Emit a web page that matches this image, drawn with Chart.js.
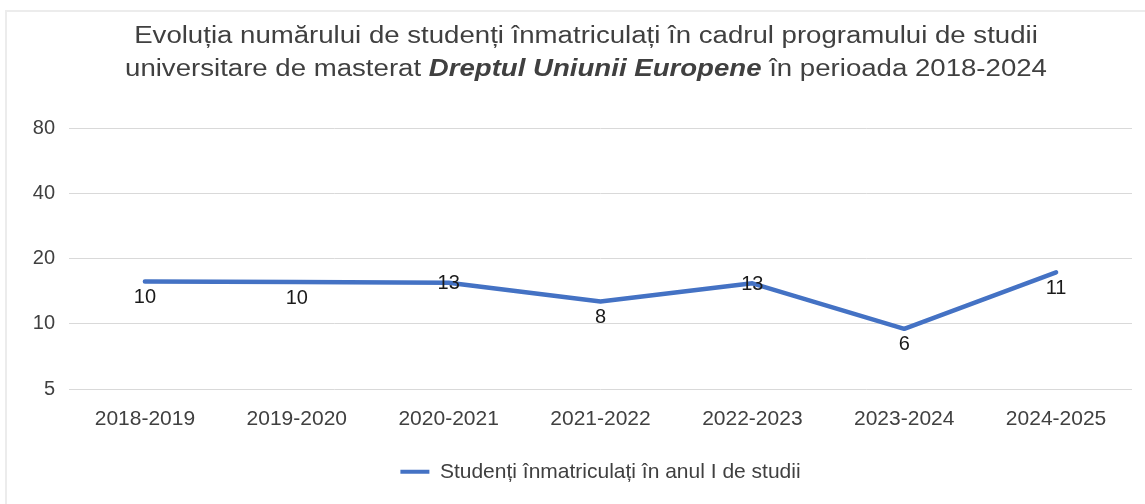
<!DOCTYPE html>
<html>
<head>
<meta charset="utf-8">
<script src="https://cdn.jsdelivr.net/npm/chart.js@4"></script>
<style>
  html, body { margin: 0; padding: 0; background: #fff; }
  #wrap { position: relative; width: 1145px; height: 504px; overflow: hidden; }
  #frame { position: absolute; left: 5px; top: 10px; right: -4px; bottom: -4px;
           border-left: 2px solid #ececec; border-top: 2px solid #ececec; }
  #title { position: absolute; left: 28px; width: 1116px; top: 19px; text-align: center;
           font-family: "Liberation Sans", Arial, sans-serif; font-size: 23px; line-height: 33px;
           color: #404040; transform: scaleX(1.2); transform-origin: 558px 0; }
  #c { position: absolute; left: 0; top: 0; }
</style>
</head>
<body>
<div id="wrap">
  <div id="frame"></div>
  <canvas id="c" width="1145" height="504"></canvas>
  <div id="title">Evoluția numărului de studenți înmatriculați în cadrul programului de studii<br>universitare de masterat <b><i>Dreptul Uniunii Europene</i></b> în perioada 2018-2024</div>
</div>
<script>
// ---- data ----
const categories = ["2018-2019", "2019-2020", "2020-2021", "2021-2022", "2022-2023", "2023-2024", "2024-2025"];
const seriesName = "Studenți înmatriculați în anul I de studii";
const plottedValues = [15.7, 15.6, 15.5, 12.7, 15.4, 9.5, 17.3];
const labelTexts = ["10", "10", "13", "8", "13", "6", "11"];
const yTickValues = [5, 10, 20, 40, 80];

const labelPlacement = ["below", "below", "center", "below", "center", "below", "below"];

const dataLabelPlugin = {
  id: "dataLabels",
  afterDatasetsDraw(chart) {
    const meta = chart.getDatasetMeta(0);
    const ctx = chart.ctx;
    ctx.save();
    ctx.font = '20px "Liberation Sans", Arial, sans-serif';
    ctx.fillStyle = "#1a1a1a";
    ctx.textAlign = "center";
    ctx.textBaseline = "middle";
    meta.data.forEach((pt, i) => {
      const off = labelPlacement[i] === "center" ? 1 : 16;
      ctx.fillText(labelTexts[i], pt.x, pt.y + off);
    });
    ctx.restore();
  }
};

new Chart(document.getElementById("c"), {
  type: "line",
  data: {
    labels: categories,
    datasets: [{
      label: seriesName,
      data: plottedValues,
      borderColor: "#4472C4",
      backgroundColor: "#4472C4",
      borderWidth: 4.5,
      borderCapStyle: "round",
      borderJoinStyle: "round",
      pointRadius: 0,
      pointHoverRadius: 0,
      tension: 0,
      fill: false
    }]
  },
  options: {
    responsive: false,
    animation: false,
    events: [],
    layout: { padding: { left: 0, right: 13, top: 128, bottom: 11.7 } },
    scales: {
      x: {
        offset: true,
        grid: { display: false, drawTicks: false, offset: true },
        border: { display: false },
        ticks: {
          color: "#404040",
          padding: 17,
          maxRotation: 0,
          autoSkip: false,
          font: { family: '"Liberation Sans", Arial, sans-serif', size: 21 }
        },
        afterFit(scale) { scale.height = 62; }
      },
      y: {
        type: "logarithmic",
        min: 5,
        max: 80,
        afterBuildTicks(scale) { scale.ticks = yTickValues.map(v => ({ value: v })); },
        afterFit(scale) { scale.width = 69; },
        grid: { color: "#d9d9d9", lineWidth: 1, drawTicks: false },
        border: { display: false },
        ticks: {
          color: "#404040",
          padding: 14,
          callback: (v) => String(v),
          font: { family: '"Liberation Sans", Arial, sans-serif', size: 20 }
        }
      }
    },
    plugins: {
      title: { display: false },
      tooltip: { enabled: false },
      legend: {
        display: true,
        position: "bottom",
        fullSize: false,
        labels: {
          color: "#404040",
          boxWidth: 29,
          boxHeight: 4,
          padding: 10,
          font: { family: '"Liberation Sans", Arial, sans-serif', size: 21 },
          generateLabels(chart) {
            const items = Chart.defaults.plugins.legend.labels.generateLabels(chart);
            items.forEach(it => { it.fillStyle = "#4472C4"; it.strokeStyle = "#4472C4"; it.lineWidth = 0; });
            return items;
          }
        }
      }
    }
  },
  plugins: [dataLabelPlugin]
});
</script>
</body>
</html>
